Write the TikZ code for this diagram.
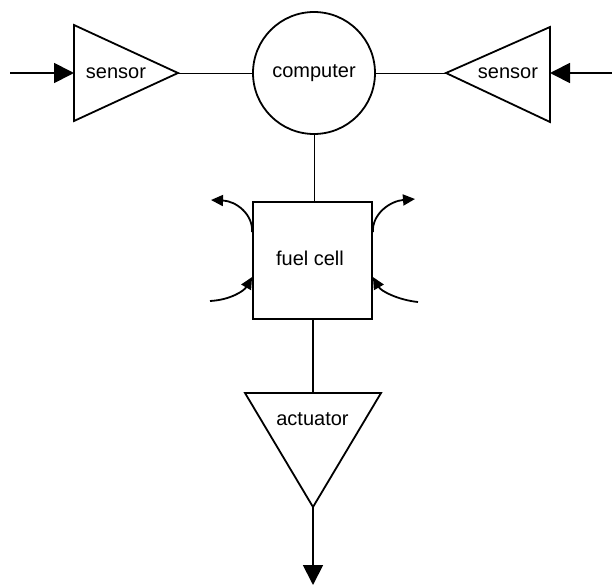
\documentclass[tikz,border=0pt]{standalone}
\usepackage{fontspec}
\setmainfont{Liberation Sans}
\usetikzlibrary{arrows.meta}

\begin{document}
\begin{tikzpicture}[x=1pt, y=-1pt,
    block/.style={draw, line width=1.8pt},
    wire/.style={line width=1pt},
    signal/.style={line width=1.8pt, -{Triangle[length=20pt,width=20pt]}},
    flow/.style={line width=1.8pt, -{Triangle[length=12pt,width=11pt]}},
    lbl/.style={font=\fontsize{20}{24}\selectfont, inner sep=0pt}]
  \useasboundingbox (0,0) rectangle (612,586);

  % computer in the middle
  \node[block, circle, minimum size=122pt, inner sep=0pt, lbl] (computer) at (314,73) {computer};

  % left sensor
  \coordinate (lstop) at (74,25);
  \coordinate (lsbot) at (74,121);
  \coordinate (lsapex) at (178,73);
  \coordinate (lsin) at (74,73);
  \draw[block] (lstop) -- (lsapex) -- (lsbot) -- cycle;
  \node[lbl] (lsensor) at (116,73) {sensor};

  % right sensor
  \coordinate (rstop) at (550,27);
  \coordinate (rsbot) at (550,122);
  \coordinate (rsapex) at (446,73);
  \coordinate (rsin) at (550,73);
  \draw[block] (rstop) -- (rsapex) -- (rsbot) -- cycle;
  \node[lbl] (rsensor) at (508,73) {sensor};

  % fuel cell
  \node[block, minimum width=119pt, minimum height=117pt, inner sep=0pt] (fuel) at (312.5,260.5) {};
  \node[lbl] (fuellbl) at (310,258) {fuel cell};

  % actuator
  \coordinate (actl) at (245,393);
  \coordinate (actr) at (381,393);
  \coordinate (acttop) at (313,393);
  \coordinate (actapex) at (313,507);
  \draw[block] (actl) -- (actr) -- (actapex) -- cycle;
  \node[lbl] (actlbl) at (312.5,419) {actuator};

  % inputs and output
  \coordinate (lin) at (10,73);
  \coordinate (rin) at (612,73);
  \coordinate (out) at (313,585);
  \draw[signal] (lin) -- (lsin);
  \draw[signal] (rin) -- (rsin);
  \draw[signal] (actapex) -- (out);

  % links
  \draw[wire] (lsapex) -- (computer);
  \draw[wire] (computer) -- (rsapex);
  \draw[wire] (computer.south) -- (computer.south |- fuel.north);
  \draw[line width=1.8pt] (fuel.south -| acttop) -- (acttop);

  % flows at the fuel cell
  \coordinate (ulout) at (211,200);
  \coordinate (llin) at (210,301);
  \coordinate (urout) at (415,199);
  \coordinate (lrin) at (418,302);
  \draw[flow] (fuel.west |- 0,232) .. controls (253,214) and (236,201) .. (ulout);
  \draw[flow] (llin) .. controls (230,300) and (244,291) .. (fuel.west |- 0,277);
  \draw[flow] (fuel.east |- 0,232) .. controls (372,214) and (390,201) .. (urout);
  \draw[flow] (lrin) .. controls (398,300) and (381,291) .. (fuel.east |- 0,277);
\end{tikzpicture}
\end{document}
